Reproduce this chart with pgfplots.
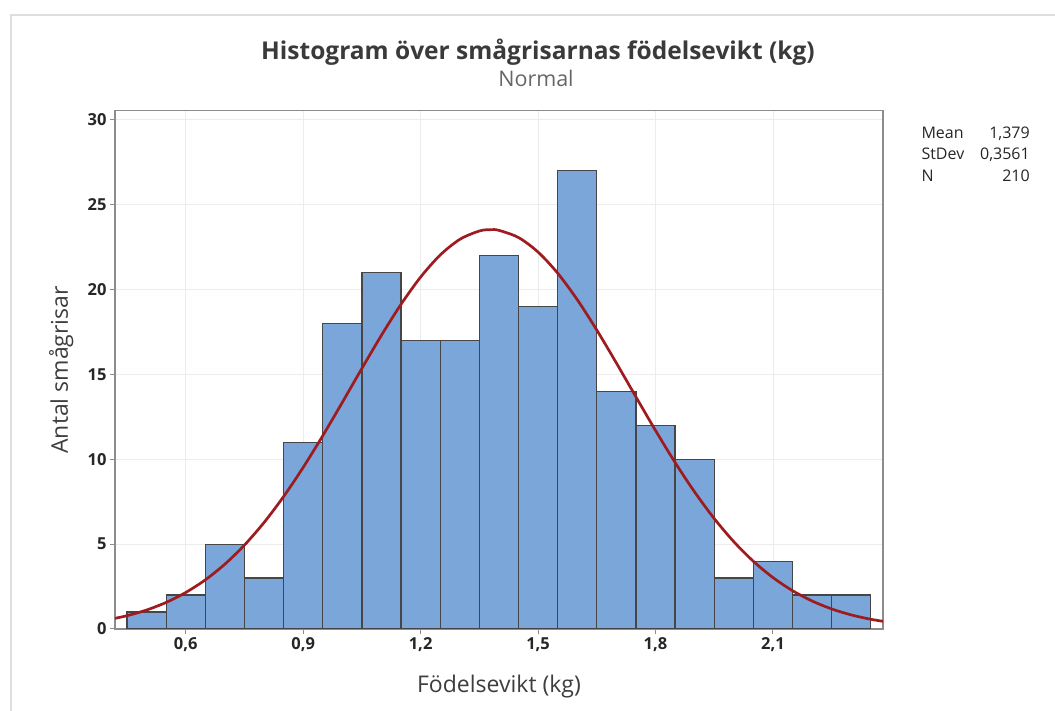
\documentclass[border=0pt]{standalone}
\usepackage{fontspec}
\setmainfont{Open Sans}
\usepackage{pgfplots}
\pgfplotsset{compat=1.18}
\definecolor{barblue}{RGB}{123,166,217}
\definecolor{baredge}{RGB}{70,70,70}
\definecolor{curvered}{RGB}{158,27,32}
\definecolor{framegray}{RGB}{140,140,140}
\definecolor{gridgray}{RGB}{236,236,236}
\definecolor{outergray}{RGB}{222,222,222}
\definecolor{titlegray}{RGB}{58,58,58}
\definecolor{labelgray}{RGB}{62,62,62}

\pgfplotstableread{
x y
0.45 1
0.55 2
0.65 5
0.75 3
0.85 11
0.95 18
1.05 21
1.15 17
1.25 17
1.35 22
1.45 19
1.55 27
1.65 14
1.75 12
1.85 10
1.95 3
2.05 4
2.15 2
2.25 2
2.35 2
}\bins

\begin{document}
\begin{tikzpicture}[x=1pt,y=1pt]
\useasboundingbox (0,0) rectangle (1055,711);
\draw[outergray, line width=2pt] (10.5,-5) -- (10.5,695.5) -- (1065,695.5);
\node[anchor=base, font=\bfseries\fontsize{24.5}{28}\selectfont, text=titlegray] at (538,651) {Histogram över smågrisarnas födelsevikt (kg)};
\node[anchor=base, font=\fontsize{21.5}{25}\selectfont, text=black!60] at (536,624) {Normal};
\begin{axis}[
  at={(115pt,82pt)}, anchor=south west, scale only axis,
  width=768pt, height=518.3pt,
  xmin=0.4193, xmax=2.3811, ymin=0, ymax=30.54,
  xtick={0.6,0.9,1.2,1.5,1.8,2.1},
  ytick={0,5,10,15,20,25,30},
  xtick pos=bottom, ytick pos=left,
  tick align=outside, major tick length=5pt,
  tick style={framegray, line width=1pt},
  axis line style={framegray, line width=1.3pt},
  grid=major, major grid style={gridgray, line width=0.8pt},
  /pgf/number format/assume math mode=true,
  xticklabel style={/pgf/number format/.cd, use comma, fixed, fixed zerofill, precision=1},
  yticklabel style={/pgf/number format/.cd, fixed, precision=0},
  tick label style={font=\bfseries\fontsize{16.5}{19}\selectfont, text=black!85},
  xlabel={Födelsevikt (kg)},
  ylabel={Antal smågrisar},
  xlabel style={at={(axis description cs:0.5,-0.1216)}, anchor=base, font=\fontsize{23}{27}\selectfont, text=labelgray},
  ylabel style={at={(axis description cs:-0.0612,0.5)}, anchor=base, font=\fontsize{23}{27}\selectfont, text=labelgray},
]
\addplot[ybar interval, fill=barblue, draw=baredge, line width=1.2pt] table[x=x, y=y] {\bins};
\addplot[smooth, curvered, line width=2.7pt] coordinates {
(0.40,0.537) (0.45,0.783) (0.50,1.118) (0.55,1.566) (0.60,2.150) (0.65,2.895)
(0.70,3.821) (0.75,4.945) (0.80,6.274) (0.85,7.806) (0.90,9.522) (0.95,11.388)
(1.00,13.355) (1.05,15.355) (1.10,17.311) (1.15,19.135) (1.20,20.737) (1.25,22.036)
(1.30,22.958) (1.35,23.452) (1.379,23.53) (1.40,23.489) (1.45,23.067) (1.50,22.210)
(1.55,20.968) (1.60,19.408) (1.65,17.615) (1.70,15.674) (1.75,13.675) (1.80,11.698)
(1.85,9.812) (1.90,8.069) (1.95,6.506) (2.00,5.143) (2.05,3.987) (2.10,3.030)
(2.15,2.258) (2.20,1.650) (2.25,1.182) (2.30,0.830) (2.35,0.572) (2.40,0.386)
};
\end{axis}
\begin{scope}[font=\fontsize{16}{19}\selectfont, text=black!85]
\node[anchor=base west] at (918,572.3) {Mean};
\node[anchor=base west] at (918,551.3) {StDev};
\node[anchor=base west] at (918,529.7) {N};
\node[anchor=base east] at (1033.3,572.3) {1,379};
\node[anchor=base east] at (1033.3,551.3) {0,3561};
\node[anchor=base east] at (1033.3,529.7) {210};
\end{scope}
\end{tikzpicture}
\end{document}
